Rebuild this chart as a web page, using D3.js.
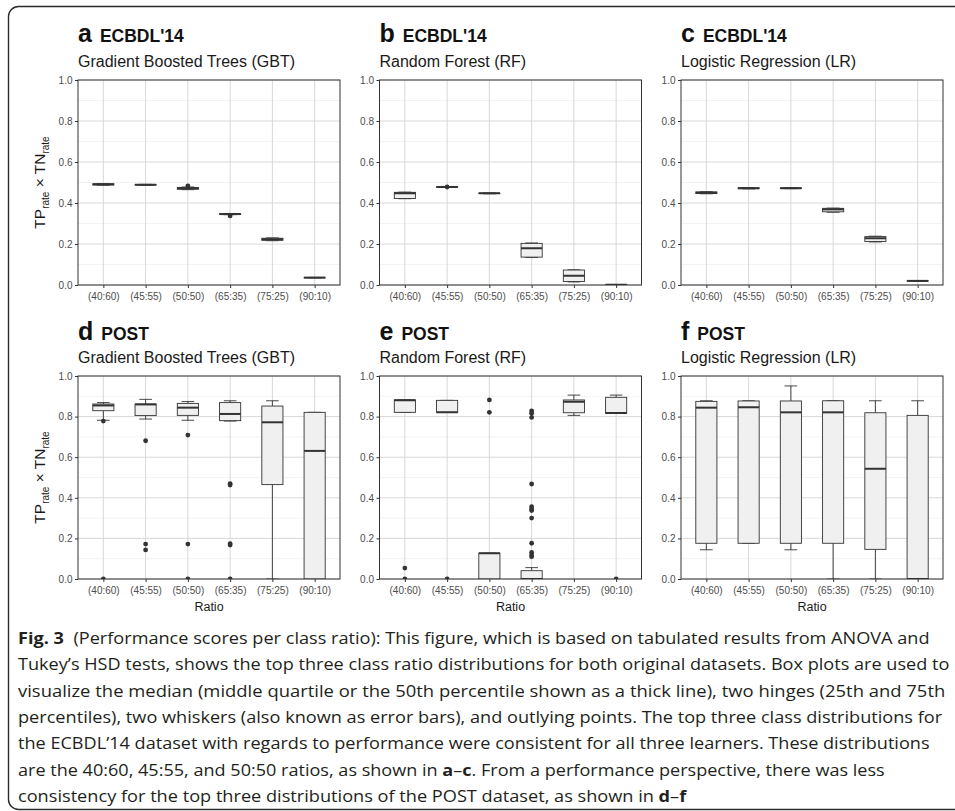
<!DOCTYPE html>
<html><head><meta charset="utf-8">
<script src="https://cdn.jsdelivr.net/npm/d3@7"></script>
<style>body{margin:0;background:#fff}svg{display:block}</style>
</head><body>
<svg id="chart" width="955" height="811"></svg>
<script>
// ---------- DATA ----------
const ratios = ["(40:60)","(45:55)","(50:50)","(65:35)","(75:25)","(90:10)"];
const yTicks = [0, 0.2, 0.4, 0.6, 0.8, 1.0];
const yMinor = [0.1, 0.3, 0.5, 0.7, 0.9];
// each row: [lower whisker, q1, median, q3, upper whisker]
const ecbdlGBT = [
  [0.487,0.488,0.491,0.494,0.495],
  [0.487,0.488,0.489,0.490,0.491],
  [0.465,0.467,0.472,0.476,0.478],
  [0.343,0.344,0.346,0.348,0.349],
  [0.216,0.218,0.223,0.228,0.230],
  [0.035,0.035,0.036,0.037,0.037]
];
const ecbdlGBTOut = [[],[],[0.484],[0.337],[],[]];
const ecbdlRF = [
  [0.421,0.422,0.447,0.452,0.453],
  [0.476,0.477,0.478,0.479,0.480],
  [0.445,0.446,0.447,0.448,0.449],
  [0.134,0.136,0.179,0.203,0.205],
  [0.015,0.017,0.045,0.073,0.074],
  [0.000,0.000,0.001,0.002,0.002]
];
const ecbdlRFOut = [[],[0.478],[],[],[],[]];
const ecbdlLR = [
  [0.445,0.446,0.450,0.454,0.455],
  [0.469,0.470,0.472,0.474,0.475],
  [0.470,0.471,0.472,0.474,0.475],
  [0.355,0.357,0.369,0.374,0.375],
  [0.210,0.212,0.228,0.236,0.238],
  [0.018,0.019,0.020,0.021,0.022]
];
const ecbdlLROut = [[],[],[],[],[],[]];
const postGBT = [
  [0.782,0.829,0.855,0.862,0.869],
  [0.788,0.805,0.860,0.862,0.885],
  [0.782,0.806,0.844,0.865,0.874],
  [0.778,0.780,0.813,0.869,0.878],
  [0.000,0.465,0.772,0.852,0.878],
  [0.000,0.000,0.631,0.821,0.821]
];
const postGBTOut = [[0.778,0],[0.681,0.172,0.143],[0.709,0.172,0],[0.470,0.463,0.174,0.167,0],[],[]];
const postRF = [
  [0.821,0.821,0.881,0.882,0.882],
  [0.821,0.821,0.821,0.880,0.880],
  [0.000,0.000,0.127,0.127,0.127],
  [0.000,0.000,0.000,0.041,0.056],
  [0.806,0.819,0.873,0.882,0.906],
  [0.816,0.816,0.818,0.895,0.906]
];
const postRFOut = [[0.054,0],[0],[0.882,0.821],[0.828,0.816,0.796,0.468,0.356,0.345,0.337,0.300,0.176,0.131,0.118,0.110],[],[0]];
const postLR = [
  [0.144,0.176,0.844,0.875,0.878],
  [0.176,0.176,0.846,0.877,0.878],
  [0.144,0.176,0.821,0.877,0.951],
  [0.000,0.176,0.821,0.878,0.878],
  [0.000,0.146,0.543,0.819,0.878],
  [0.000,0.000,0.000,0.806,0.878]
];
const postLROut = [[],[],[],[],[],[]];

const letters = ["a","b","c","d","e","f"];
const datasets = ["ECBDL'14","ECBDL'14","ECBDL'14","POST","POST","POST"];
const models = ["Gradient Boosted Trees (GBT)","Random Forest (RF)","Logistic Regression (LR)",
                "Gradient Boosted Trees (GBT)","Random Forest (RF)","Logistic Regression (LR)"];
const boxData = [ecbdlGBT, ecbdlRF, ecbdlLR, postGBT, postRF, postLR];
const outData = [ecbdlGBTOut, ecbdlRFOut, ecbdlLROut, postGBTOut, postRFOut, postLROut];
const xTitle = "Ratio";
const captionLines = [
  [["Fig. 3",1],["  (Performance scores per class ratio): This figure, which is based on tabulated results from ANOVA and",0]],
  [["Tukey\u2019s HSD tests, shows the top three class ratio distributions for both original datasets. Box plots are used to",0]],
  [["visualize the median (middle quartile or the 50th percentile shown as a thick line), two hinges (25th and 75th",0]],
  [["percentiles), two whiskers (also known as error bars), and outlying points. The top three class distributions for",0]],
  [["the ECBDL\u201914 dataset with regards to performance were consistent for all three learners. These distributions",0]],
  [["are the 40:60, 45:55, and 50:50 ratios, as shown in ",0],["a",1],["\u2013",0],["c",1],[". From a performance perspective, there was less",0]],
  [["consistency for the top three distributions of the POST dataset, as shown in ",0],["d",1],["\u2013",0],["f",1]]
];

// ---------- LAYOUT ----------
const svg = d3.select("#chart");
const FONT = "'Liberation Sans', Arial, Helvetica, sans-serif";
const colLeft = [78, 379.5, 681];
const plotW = 262;
const rowTop = [80, 376];
const plotH = [205, 203];
const titleY = [42, 340];
const subY = [67, 363];
const captionRight = [930, 950, 946, 943, 930, 885, null];
const captionX = 18, captionY0 = 644, captionDy = 26.3;

// outer frame
svg.append("rect").attr("x", 8.5).attr("y", 6.5).attr("width", 980).attr("height", 803)
  .attr("rx", 10).attr("fill", "none").attr("stroke", "#2b2b2b").attr("stroke-width", 1.4);

const x = d3.scalePoint().domain(ratios).range([0, plotW]).padding(0.6);
const boxW = x.step() * 0.5;
const capW = x.step() * 0.3;

boxData.forEach((data, i) => {
  const row = Math.floor(i / 3), col = i % 3;
  const left = colLeft[col], top = rowTop[row], h = plotH[row];
  const y = d3.scaleLinear().domain([0, 1]).range([h, 0]);
  const g = svg.append("g").attr("transform", `translate(${left},${top})`);
  const clipId = "clip" + i;
  g.append("clipPath").attr("id", clipId).append("rect")
    .attr("x", 0).attr("y", 0).attr("width", plotW).attr("height", h);

  // grid
  g.append("g").selectAll("line").data(yMinor).join("line")
    .attr("x1", 0).attr("x2", plotW).attr("y1", d => y(d)).attr("y2", d => y(d))
    .attr("stroke", "#ebebeb").attr("stroke-width", 0.6);
  g.append("g").selectAll("line").data(yTicks).join("line")
    .attr("x1", 0).attr("x2", plotW).attr("y1", d => y(d)).attr("y2", d => y(d))
    .attr("stroke", "#d4d4d4").attr("stroke-width", 0.9);
  g.append("g").selectAll("line").data(ratios).join("line")
    .attr("x1", d => x(d)).attr("x2", d => x(d)).attr("y1", 0).attr("y2", h)
    .attr("stroke", "#d4d4d4").attr("stroke-width", 0.9);

  const marks = g.append("g").attr("clip-path", `url(#${clipId})`);
  data.forEach((s, k) => {
    const cx = x(ratios[k]);
    const [lo, q1, med, q3, hi] = s;
    const bg = marks.append("g");
    bg.append("line").attr("x1", cx).attr("x2", cx).attr("y1", y(q3)).attr("y2", y(hi))
      .attr("stroke", "#333").attr("stroke-width", 0.9);
    bg.append("line").attr("x1", cx).attr("x2", cx).attr("y1", y(q1)).attr("y2", y(lo))
      .attr("stroke", "#333").attr("stroke-width", 0.9);
    [lo, hi].forEach(v => {
      bg.append("line").attr("x1", cx - capW / 2).attr("x2", cx + capW / 2)
        .attr("y1", y(v)).attr("y2", y(v)).attr("stroke", "#333").attr("stroke-width", 0.9);
    });
    bg.append("rect").attr("x", cx - boxW / 2).attr("width", boxW)
      .attr("y", y(q3)).attr("height", Math.max(0, y(q1) - y(q3)))
      .attr("fill", "#f0f0f0").attr("stroke", "#333").attr("stroke-width", 0.9);
    bg.append("line").attr("x1", cx - boxW / 2).attr("x2", cx + boxW / 2)
      .attr("y1", y(med)).attr("y2", y(med)).attr("stroke", "#333").attr("stroke-width", 2);
    bg.selectAll("circle").data(outData[i][k]).join("circle")
      .attr("cx", cx).attr("cy", d => y(d)).attr("r", 2.4).attr("fill", "#333");
  });

  g.append("rect").attr("x", 0).attr("y", 0).attr("width", plotW).attr("height", h)
    .attr("fill", "none").attr("stroke", "#333").attr("stroke-width", 1);

  const ya = g.append("g").call(d3.axisLeft(y).tickValues(yTicks).tickFormat(d3.format(".1f"))
    .tickSize(3).tickPadding(2.5));
  const xa = g.append("g").attr("transform", `translate(0,${h})`)
    .call(d3.axisBottom(x).tickSize(3).tickPadding(4.5));
  [ya, xa].forEach(a => {
    a.select(".domain").remove();
    a.selectAll(".tick line").attr("stroke", "#333");
    a.selectAll(".tick text").attr("fill", "#4d4d4d").style("font-family", FONT).style("font-size", "10px");
  });

  const t = svg.append("text").attr("x", left).attr("y", titleY[row])
    .style("font-family", FONT).style("font-weight", "bold").attr("fill", "#111");
  t.append("tspan").text(letters[i]).style("font-size", "25px");
  t.append("tspan").attr("dx", 8).text(datasets[i]).style("font-size", "17.5px");
  svg.append("text").attr("x", left).attr("y", subY[row]).text(models[i])
    .style("font-family", FONT).style("font-size", "16px").attr("fill", "#1a1a1a");

  if (col === 0) {
    const yt = svg.append("text")
      .attr("transform", `translate(${left - 33},${top + h / 2}) rotate(-90)`)
      .attr("text-anchor", "middle").style("font-family", FONT).style("font-size", "15.5px")
      .attr("fill", "#1a1a1a");
    yt.append("tspan").text("TP");
    yt.append("tspan").text("rate").style("font-size", "10px").attr("dy", 3.5);
    yt.append("tspan").text(" \u00d7 TN").attr("dy", -3.5);
    yt.append("tspan").text("rate").style("font-size", "10px").attr("dy", 3.5);
  }
  if (row === 1) {
    svg.append("text").attr("x", left + plotW / 2).attr("y", top + h + 32)
      .attr("text-anchor", "middle").text(xTitle)
      .style("font-family", FONT).style("font-size", "12.5px").attr("fill", "#1a1a1a");
  }
});

// caption
const capNodes = captionLines.map((parts, li) => {
  const t = svg.append("text").attr("x", 0).attr("y", 0)
    .style("font-family", "'Open Sans', 'Noto Sans', sans-serif").style("font-size", "16.5px")
    .attr("fill", "#231f20").style("white-space", "pre");
  parts.forEach(([s, b]) => t.append("tspan").text(s).style("font-weight", b ? "700" : "400"));
  return t;
});
const scales = capNodes.map((t, li) => captionRight[li] == null ? null :
  (captionRight[li] - captionX) / t.node().getComputedTextLength());
const avgScale = d3.mean(scales.filter(s => s != null));
capNodes.forEach((t, li) => {
  const sx = scales[li] == null ? avgScale : scales[li];
  t.attr("transform", `translate(${captionX},${captionY0 + li * captionDy}) scale(${sx},1)`);
});
</script>
</body></html>
